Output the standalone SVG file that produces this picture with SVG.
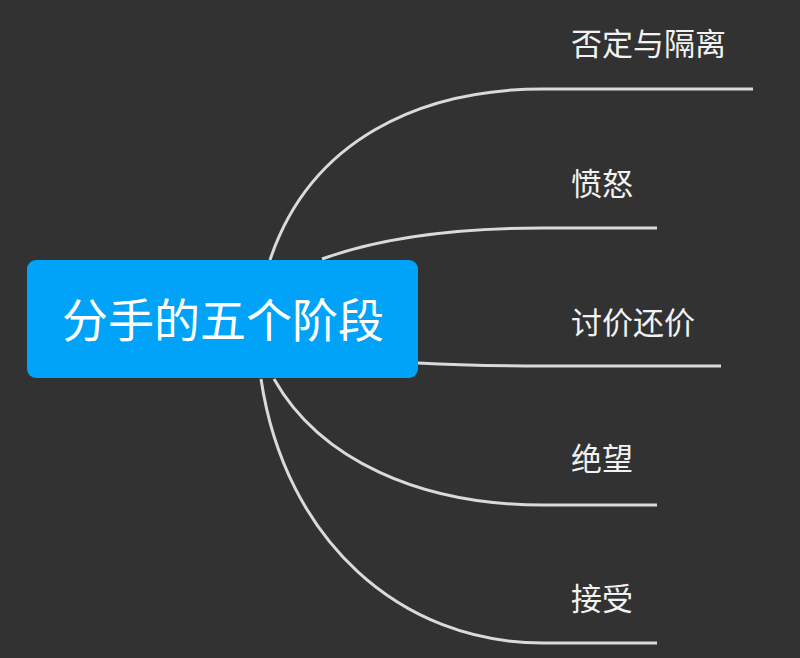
<svg xmlns="http://www.w3.org/2000/svg" width="800" height="658" viewBox="0 0 800 658">
<style>
.bg{fill:#323232}
.link{fill:none;stroke:#d9d9de;stroke-width:3;stroke-linecap:butt}
.root{fill:#00a3f7}
.rt{font-family:"Noto Sans CJK SC","Microsoft YaHei",sans-serif;font-size:46px;fill:#ffffff;text-anchor:middle;dominant-baseline:central}
.lt{font-family:"Noto Sans CJK SC","Microsoft YaHei",sans-serif;font-size:31px;fill:#f2f2f2;dominant-baseline:central}
</style>
<rect class="bg" x="0" y="0" width="800" height="658"/>
<g id="connectors">
<path class="link" d="M270,260 C310,140 420,89 543,89 L753,89"/>
<path class="link" d="M322,259 C380,238 450,228 543,228 L657,228"/>
<path class="link" d="M418,363 C470,366 500,366 543,366 L721,366"/>
<path class="link" d="M274,379 C320,460 420,505 543,505 L657,505"/>
<path class="link" d="M261,379 C285,540 400,643 543,643 L657,643"/>
</g>
<g id="root">
<rect class="root" x="27" y="260" width="391" height="118" rx="9"/>
<text class="rt" x="223" y="317">分手的五个阶段</text>
</g>
<g id="n1"><text class="lt" x="571" y="41">否定与隔离</text></g>
<g id="n2"><text class="lt" x="571" y="181">愤怒</text></g>
<g id="n3"><text class="lt" x="571" y="320">讨价还价</text></g>
<g id="n4"><text class="lt" x="571" y="456">绝望</text></g>
<g id="n5"><text class="lt" x="571" y="596">接受</text></g>
</svg>
